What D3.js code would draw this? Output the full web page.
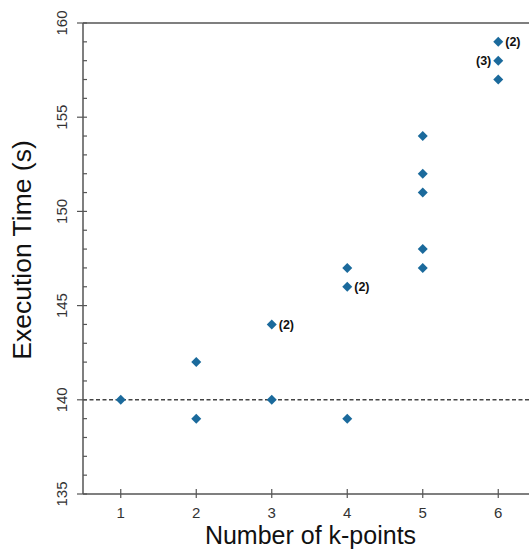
<!DOCTYPE html>
<html><head><meta charset="utf-8">
<script src="https://cdn.jsdelivr.net/npm/d3@7"></script>
<style>body{margin:0;background:#fff}svg{display:block}</style>
</head><body>
<script>
const kpoints = [1, 2, 2, 3, 3, 4, 4, 4, 5, 5, 5, 5, 5, 6, 6, 6];
const times   = [140, 142, 139, 144, 140, 147, 146, 139, 154, 152, 151, 148, 147, 159, 158, 157];
const counts  = ["", "", "", "(2)", "", "", "(2)", "", "", "", "", "", "", "(2)", "(3)", ""];
const countSide = ["", "", "", "right", "", "", "right", "", "", "", "", "", "", "right", "left", ""];
const xTicks = [1, 2, 3, 4, 5, 6];
const yTicks = [135, 140, 145, 150, 155, 160];
const baseline = 140;

const W = 529, H = 554;
const svg = d3.select("body").append("svg").attr("width", W).attr("height", H);
const x = d3.scaleLinear().domain([0.5, 6.5]).range([83, 536]);
const y = d3.scaleLinear().domain([135, 160]).range([494, 23]);
const axisColor = "#555";
const font = "Arial, 'Liberation Sans', sans-serif";

// top border
svg.append("line").attr("x1", x(0.5)).attr("x2", W).attr("y1", y(160)).attr("y2", y(160))
  .attr("stroke", axisColor).attr("stroke-width", 1.5);

// dashed baseline
svg.append("line").attr("x1", x(0.5)).attr("x2", W).attr("y1", y(baseline)).attr("y2", y(baseline))
  .attr("stroke", "#444").attr("stroke-width", 1.5).attr("stroke-dasharray", "4,2.5");

// y axis
const yMinor = d3.range(135, 161, 1).filter(v => v % 5 !== 0);
const gy = svg.append("g").attr("transform", `translate(${x(0.5)},0)`);
gy.append("line").attr("y1", y(135)).attr("y2", y(160)).attr("stroke", axisColor).attr("stroke-width", 1.5);
gy.selectAll(".mn").data(yMinor).join("line").attr("x1", 0).attr("x2", 4)
  .attr("y1", d => y(d)).attr("y2", d => y(d)).attr("stroke", axisColor).attr("stroke-width", 1.2);
gy.selectAll(".mj").data(yTicks).join("line").attr("x1", -6).attr("x2", 4)
  .attr("y1", d => y(d)).attr("y2", d => y(d)).attr("stroke", axisColor).attr("stroke-width", 1.2);
svg.selectAll(".yl").data(yTicks).join("text")
  .attr("transform", d => `translate(67,${y(d)}) rotate(-90)`)
  .attr("text-anchor", "middle").attr("font-family", font).attr("font-size", 15).attr("fill", "#333")
  .text(d => d);

// x axis
const gx = svg.append("g").attr("transform", `translate(0,${y(135)})`);
gx.append("line").attr("x1", x(0.5)).attr("x2", W).attr("stroke", axisColor).attr("stroke-width", 1.5);
gx.selectAll(".t").data(xTicks).join("line").attr("x1", d => x(d)).attr("x2", d => x(d))
  .attr("y1", -5).attr("y2", 4).attr("stroke", axisColor).attr("stroke-width", 1.2);
gx.selectAll(".tl").data(xTicks).join("text").attr("x", d => x(d)).attr("y", 24)
  .attr("text-anchor", "middle").attr("font-family", font).attr("font-size", 15).attr("fill", "#333")
  .text(d => d);

// axis titles
svg.append("text").attr("x", x(3.5)+1).attr("y", 544).attr("text-anchor", "middle")
  .attr("font-family", font).attr("font-size", 25).attr("fill", "#111").text("Number of k-points");
svg.append("text").attr("transform", `translate(31,250) rotate(-90)`).attr("text-anchor", "middle")
  .attr("font-family", font).attr("font-size", 26.5).attr("fill", "#111").text("Execution Time (s)");

// points
const diamond = "M0,-5L5,0L0,5L-5,0Z";
const pts = kpoints.map((k, i) => ({k, t: times[i], c: counts[i], s: countSide[i]}));
svg.selectAll(".pt").data(pts).join("path").attr("d", diamond)
  .attr("transform", d => `translate(${x(d.k)},${y(d.t)})`).attr("fill", "#1b6a9c");

svg.selectAll(".ann").data(pts.filter(d => d.c)).join("text")
  .attr("x", d => d.s === "right" ? x(d.k) + 7 : x(d.k) - 7)
  .attr("y", d => y(d.t) + 4.5)
  .attr("text-anchor", d => d.s === "right" ? "start" : "end")
  .attr("font-family", font).attr("font-size", 12.5).attr("font-weight", "bold").attr("fill", "#111")
  .text(d => d.c);
</script>
</body></html>
